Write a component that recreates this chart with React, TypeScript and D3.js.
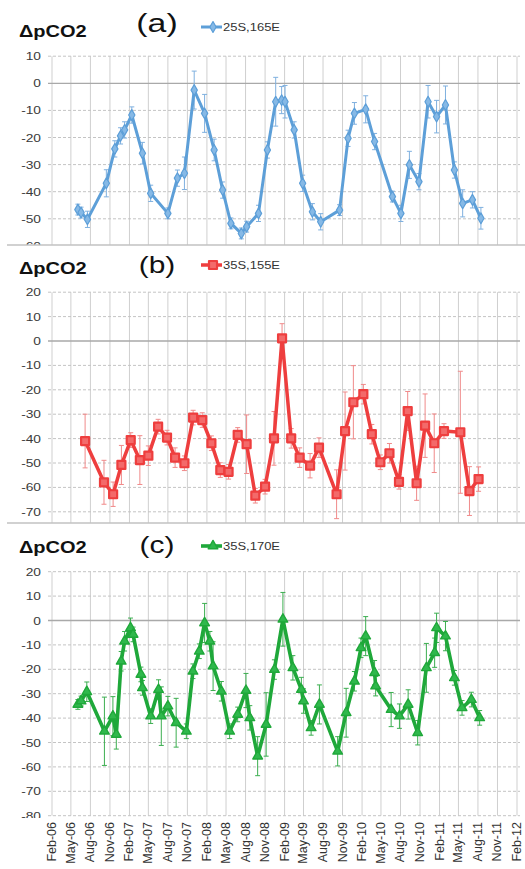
import React, { useEffect, useRef } from "react";
import * as d3 from "d3";

// quarterly tick labels on the shared date axis
const tickLabels = [
  "Feb-06", "May-06", "Aug-06", "Nov-06", "Feb-07", "May-07", "Aug-07", "Nov-07",
  "Feb-08", "May-08", "Aug-08", "Nov-08", "Feb-09", "May-09", "Aug-09", "Nov-09",
  "Feb-10", "May-10", "Aug-10", "Nov-10", "Feb-11", "May-11", "Aug-11", "Nov-11", "Feb-12",
];

// (a) 25S,165E
const datesA = [
  "2006-06-03", "2006-06-18", "2006-07-18", "2006-10-15", "2006-11-24", "2006-12-21", "2007-01-09",
  "2007-02-12", "2007-04-03", "2007-05-12", "2007-08-01", "2007-09-15", "2007-10-18", "2007-12-03",
  "2008-01-21", "2008-03-06", "2008-04-15", "2008-05-24", "2008-07-12", "2008-08-06", "2008-10-01",
  "2008-11-12", "2008-12-21", "2009-01-18", "2009-02-03", "2009-03-18", "2009-04-27", "2009-06-12",
  "2009-07-21", "2009-10-18", "2009-11-27", "2009-12-27", "2010-02-18", "2010-04-01", "2010-06-24",
  "2010-08-03", "2010-09-12", "2010-10-27", "2010-12-09", "2011-01-18", "2011-03-01", "2011-04-12",
  "2011-05-21", "2011-07-06", "2011-08-15",
];
const valuesA = [
  -46.6, -47.7, -50.2, -36.9, -24.2, -19.4, -17.2, -11.7, -25.8, -40.6, -48, -35, -33.2, -2.5,
  -11.1, -24.6, -39.4, -51.7, -55.4, -52.9, -48, -24.6, -6.8, -6.2, -6.8, -17.2, -36.9, -47.4,
  -51.1, -46.8, -20.3, -11.1, -9.6, -21.5, -41.8, -48, -30.1, -36.3, -6.8, -12.3, -8, -32,
  -44.3, -43, -49.8,
];
const errorsA = [
  2, 2, 3, 5, 3, 3, 3, 3, 4, 3, 2, 3, 6, 7,
  7, 4, 3, 2, 2, 2, 3, 3, 9, 5, 6, 3, 3, 3,
  3, 2, 3, 4, 5, 3, 2, 3, 5, 3, 6, 6, 7, 3,
  5, 3, 4,
];

// (b) 35S,155E
const datesB = [
  "2006-07-07", "2006-10-04", "2006-11-16", "2006-12-25", "2007-02-07", "2007-03-22", "2007-05-01",
  "2007-06-16", "2007-07-28", "2007-09-04", "2007-10-18", "2007-11-28", "2008-01-10", "2008-02-22",
  "2008-04-04", "2008-05-13", "2008-06-25", "2008-08-06", "2008-09-16", "2008-11-01", "2008-12-13",
  "2009-01-20", "2009-03-04", "2009-04-13", "2009-06-01", "2009-07-13", "2009-10-04", "2009-11-13",
  "2009-12-22", "2010-02-07", "2010-03-19", "2010-04-28", "2010-06-10", "2010-07-25", "2010-09-04",
  "2010-10-16", "2010-11-25", "2011-01-07", "2011-02-22", "2011-05-10", "2011-06-22", "2011-08-04",
];
const valuesB = [
  -41, -57.9, -62.8, -50.8, -40.6, -48.8, -47, -35.1, -39.6, -47.8, -50.1, -31.4, -32.4, -41.9,
  -52.9, -53.6, -38.5, -42.3, -63.4, -59.7, -39.9, 1.1, -39.9, -47.8, -51.1, -43.7, -62.8, -36.9,
  -25.1, -21.8, -38.2, -49.7, -46, -57.7, -28.7, -58.3, -34.7, -41.9, -36.9, -37.4, -61.5, -56.6,
];
const errorsB = [
  11, 9, 5, 8, 3, 10, 4, 3, 3, 4, 3, 3, 3, 3,
  3, 3, 3, 12, 3, 3, 11, 6, 4, 4, 5, 4, 10, 16,
  15, 4, 4, 3, 4, 3, 8, 7, 13, 12, 3, 25, 10, 5,
];

// (c) 35S,170E
const datesC = [
  "2006-06-03", "2006-06-18", "2006-07-15", "2006-10-06", "2006-11-15", "2006-12-01", "2006-12-24",
  "2007-01-09", "2007-02-06", "2007-02-18", "2007-03-27", "2007-04-03", "2007-05-12", "2007-06-18",
  "2007-07-01", "2007-08-01", "2007-09-09", "2007-10-27", "2007-11-27", "2007-12-27", "2008-01-21",
  "2008-02-15", "2008-03-01", "2008-04-09", "2008-05-18", "2008-06-25", "2008-08-03", "2008-08-21",
  "2008-09-27", "2008-11-06", "2008-12-15", "2009-01-24", "2009-03-12", "2009-04-21", "2009-05-01",
  "2009-06-06", "2009-07-15", "2009-10-09", "2009-11-18", "2009-12-27", "2010-01-27", "2010-02-18",
  "2010-04-01", "2010-04-06", "2010-06-18", "2010-07-27", "2010-09-06", "2010-10-21", "2010-12-01",
  "2011-01-09", "2011-01-18", "2011-03-01", "2011-04-12", "2011-05-18", "2011-07-01", "2011-08-09",
];
const valuesC = [
  -34.4, -33, -29.2, -45.4, -39.2, -46.7, -16.7, -8.5, -3, -5.7, -22.1, -27.6, -39.2, -28.3,
  -39.2, -35.1, -41.9, -45.4, -20.8, -12.6, -1, -8.5, -18.7, -29, -45.4, -38.5, -28.7, -39.9,
  -55.6, -42.6, -20.1, 0.5, -19.4, -28.3, -33, -44, -34.4, -53.6, -37.8, -24.9, -11.2, -6.4,
  -21.4, -26.9, -36.5, -39.2, -34.4, -46, -19.4, -13.2, -3, -6.4, -23.5, -35.8, -32.4, -39.9,
];
const errorsC = [
  2, 2, 4, 14, 8, 6, 4, 4, 4, 3, 3, 3, 3, 4,
  12, 4, 10, 3, 3, 3, 8, 4, 10, 4, 3, 3, 7, 5,
  8, 13, 4, 11, 5, 5, 5, 3, 8, 6, 10, 4, 4, 8,
  5, 4, 7, 5, 6, 5, 10, 6, 6, 6, 3, 3, 3, 3,
];

const W = 525;
const H = 869;
const FONT = "'Liberation Sans', Arial, sans-serif";

const panels = [
  {
    tag: "(a)", tagSize: 26, name: "25S,165E", dates: datesA, values: valuesA, errors: errorsA,
    line: "#5d9fd8", fill: "#86b9e6", err: "#7fb0df", symbol: d3.symbolDiamond, symSize: 34,
    lineW: 3, markStroke: 1.2,
    domain: [-60, 10], range: [245.9, 56.2], clipBottom: 245, titleY: 37, tagY: 32, legendY: 27,
  },
  {
    tag: "(b)", tagSize: 23, name: "35S,155E", dates: datesB, values: valuesB, errors: errorsB,
    line: "#ee3e3e", fill: "#f36a6a", err: "#f08a8a", symbol: d3.symbolSquare, symSize: 64,
    lineW: 3.5, markStroke: 2.2,
    domain: [-80, 20], range: [536.2, 292.2], clipBottom: 523, titleY: 274, tagY: 273, legendY: 265,
  },
  {
    tag: "(c)", tagSize: 23, name: "35S,170E", dates: datesC, values: valuesC, errors: errorsC,
    line: "#1fa83a", fill: "#2fb84c", err: "#3cae50", symbol: d3.symbolTriangle, symSize: 40,
    lineW: 3.6, markStroke: 1.4,
    domain: [-80, 20], range: [815.7, 571.7], clipBottom: 818, titleY: 553, tagY: 553, legendY: 546,
  },
];

function scaledText(
  g: d3.Selection<SVGGElement, unknown, null, undefined>,
  x: number, y: number, str: string, size: number, sx: number,
  anchor = "start", weight = "normal", fill = "#222"
) {
  return g.append("text")
    .attr("transform", `translate(${x},${y}) scale(${sx},1)`)
    .attr("text-anchor", anchor)
    .attr("font-family", FONT)
    .attr("font-size", size)
    .attr("font-weight", weight)
    .attr("fill", fill)
    .text(str);
}

export default function App() {
  const ref = useRef<SVGSVGElement>(null);

  useEffect(() => {
    const svg = d3.select(ref.current);
    svg.selectAll("*").remove();

    const parseDay = d3.timeParse("%Y-%m-%d");
    const parseTick = d3.timeParse("%b-%y");
    const tickDates = tickLabels.map((t) => parseTick(t) as Date);

    const xScale = d3.scaleTime()
      .domain([tickDates[0], tickDates[tickDates.length - 1]])
      .range([52, 517]);
    const plotLeft = 48;
    const plotRight = 520;

    svg.append("rect").attr("width", W).attr("height", H).attr("fill", "#fff");
    const defs = svg.append("defs");

    panels.forEach((p, i) => {
      const yScale = d3.scaleLinear().domain(p.domain).range(p.range);
      const top = yScale(p.domain[1]);
      const clipId = `clip${i}`;
      defs.append("clipPath").attr("id", clipId)
        .append("rect").attr("x", 0).attr("y", top - 40).attr("width", W).attr("height", p.clipBottom - top + 40);

      const g = svg.append("g").attr("clip-path", `url(#${clipId})`);

      // vertical grid
      g.selectAll(".vgrid").data(tickDates).join("line")
        .attr("x1", (d) => xScale(d)).attr("x2", (d) => xScale(d))
        .attr("y1", top).attr("y2", yScale(p.domain[0]))
        .attr("stroke", "#cfcfcf").attr("stroke-width", 1);

      // horizontal grid
      const yTicks = d3.range(p.domain[0], p.domain[1] + 1, 10);
      g.selectAll(".hgrid").data(yTicks).join("line")
        .attr("x1", plotLeft).attr("x2", plotRight)
        .attr("y1", (d) => yScale(d)).attr("y2", (d) => yScale(d))
        .attr("stroke", (d) => (d === 0 ? "#a9a9a9" : "#c4c4c4"))
        .attr("stroke-width", (d) => (d === 0 ? 1.3 : 1))
        .attr("stroke-dasharray", (d) => (d === 0 ? null : "3,2"));

      // y tick labels (only those that reach into the visible crop)
      yTicks.filter((t) => yScale(t) - 4 < p.clipBottom).forEach((t) => {
        scaledText(g, 41, yScale(t) + 4, String(t), 11, 1.25, "end", "normal", "#3a3a3a");
      });

      const pts = p.dates.map((d, j) => ({ date: parseDay(d) as Date, v: p.values[j], e: p.errors[j] }));

      // error bars
      const eb = g.append("g").attr("stroke", p.err).attr("stroke-width", 1);
      pts.forEach((d) => {
        const x = xScale(d.date);
        const y1 = yScale(d.v + d.e);
        const y2 = yScale(d.v - d.e);
        eb.append("line").attr("x1", x).attr("x2", x).attr("y1", y1).attr("y2", y2);
        eb.append("line").attr("x1", x - 2.5).attr("x2", x + 2.5).attr("y1", y1).attr("y2", y1);
        eb.append("line").attr("x1", x - 2.5).attr("x2", x + 2.5).attr("y1", y2).attr("y2", y2);
      });

      const line = d3.line<{ date: Date; v: number }>()
        .x((d) => xScale(d.date))
        .y((d) => yScale(d.v));
      g.append("path").datum(pts).attr("d", line)
        .attr("fill", "none").attr("stroke", p.line).attr("stroke-width", p.lineW)
        .attr("stroke-linejoin", "round");

      const sym = d3.symbol().type(p.symbol).size(p.symSize);
      g.selectAll(".mk").data(pts).join("path")
        .attr("d", sym)
        .attr("transform", (d) => `translate(${xScale(d.date)},${yScale(d.v)})`)
        .attr("fill", p.fill).attr("stroke", p.line).attr("stroke-width", p.markStroke)
        .attr("stroke-linejoin", "round");

      // titles + legend
      const hg = svg.append("g");
      scaledText(hg, 19, p.titleY, "ΔpCO2", 16, 1.25, "start", "bold", "#111");
      scaledText(hg, 157, p.tagY, p.tag, p.tagSize, 1.3, "middle", "normal", "#111");
      hg.append("line").attr("x1", 201).attr("x2", 222).attr("y1", p.legendY).attr("y2", p.legendY)
        .attr("stroke", p.line).attr("stroke-width", p.lineW);
      hg.append("path").attr("d", sym).attr("transform", `translate(213,${p.legendY})`)
        .attr("fill", p.fill).attr("stroke", p.line).attr("stroke-width", p.markStroke)
        .attr("stroke-linejoin", "round");
      scaledText(hg, 223, p.legendY + 3.5, p.name, 10, 1.3, "start", "normal", "#333");
    });

    // separators between cropped panels
    [245, 523].forEach((y) => {
      svg.append("line").attr("x1", 7).attr("x2", W).attr("y1", y).attr("y2", y)
        .attr("stroke", "#c2c2c2").attr("stroke-width", 1.5);
    });

    // x tick labels under the last panel
    const xg = svg.append("g");
    tickDates.forEach((d, i) => {
      xg.append("text")
        .attr("transform", `translate(${xScale(d) + 4},822) rotate(-90)`)
        .attr("text-anchor", "end")
        .attr("font-family", FONT)
        .attr("font-size", 12.5)
        .attr("fill", "#333")
        .text(tickLabels[i]);
    });
  }, []);

  return (
    <svg
      ref={ref}
      width={W}
      height={H}
      style={{ position: "absolute", left: 0, top: 0, display: "block" }}
    />
  );
}
